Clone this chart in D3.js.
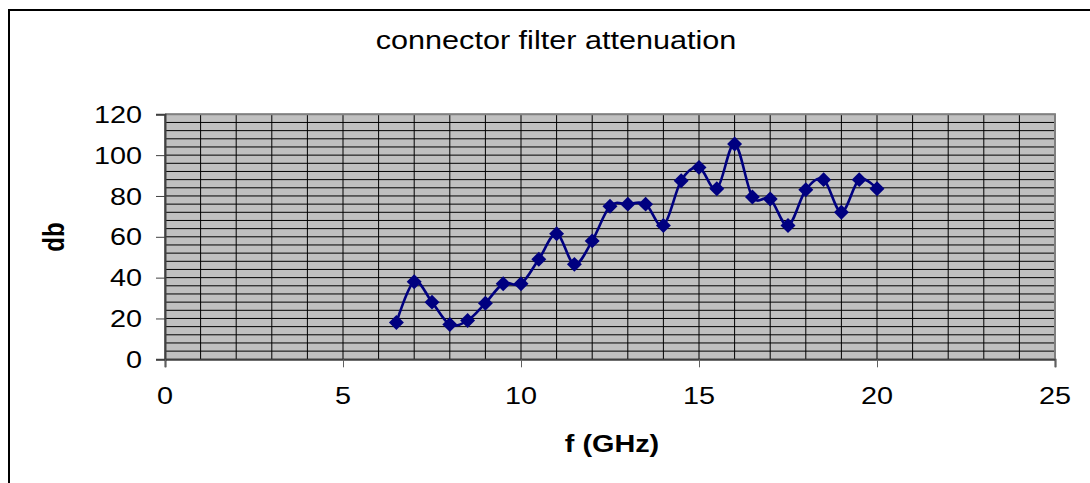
<!DOCTYPE html>
<html>
<head>
<meta charset="utf-8">
<script src="https://cdn.jsdelivr.net/npm/d3@7"></script>
<style>
  html, body { margin: 0; padding: 0; background: #fff; }
  svg { display: block; }
  text { font-family: "Liberation Sans", Arial, sans-serif; fill: #000; }
</style>
</head>
<body>
<svg id="chart" width="1090" height="483"></svg>
<script>
// ---- data ----
const freqGHz = [6.5, 7, 7.5, 8, 8.5, 9, 9.5, 10, 10.5, 11, 11.5, 12, 12.5, 13, 13.5, 14,
                 14.5, 15, 15.5, 16, 16.5, 17, 17.5, 18, 18.5, 19, 19.5, 20];
const attenDb = [18, 38, 28, 17, 19, 27.5, 37, 37, 49, 61.5, 46.5, 58, 75, 76, 76, 65.5,
                 87.5, 94, 83.5, 105.5, 79.5, 78.5, 65.5, 83, 88, 72, 88, 83.5];
const xTicks = [0, 5, 10, 15, 20, 25];
const yTicks = [0, 20, 40, 60, 80, 100, 120];
const xMinorGrid = d3.range(0, 26, 1);
const yMinorGrid = d3.range(0, 121, 4);
const titleText = "connector filter attenuation";
const xTitle = "f (GHz)";
const yTitle = "db";

// ---- layout ----
const svg = d3.select("#chart");
const L = 165, R = 1055, T = 114.3, B = 359.3;
const SX = 1.2; // horizontal stretch of the reference

const x = d3.scaleLinear().domain([0, 25]).range([L, R]);
const y = d3.scaleLinear().domain([0, 120]).range([B, T]);

// outer frame
svg.append("rect").attr("x", 9).attr("y", 10).attr("width", 1200).attr("height", 600)
  .attr("fill", "none").attr("stroke", "#000").attr("stroke-width", 2);

// plot area
svg.append("rect").attr("x", L).attr("y", T).attr("width", R - L).attr("height", B - T)
  .attr("fill", "#c0c0c0");

// gridlines
const grid = svg.append("g");
grid.selectAll("line.h").data(yMinorGrid).join("line")
  .attr("x1", L).attr("x2", R).attr("y1", d => y(d)).attr("y2", d => y(d))
  .attr("stroke", "#000").attr("stroke-width", 1);
grid.selectAll("line.v").data(xMinorGrid).join("line")
  .attr("y1", T).attr("y2", B).attr("x1", d => x(d)).attr("x2", d => x(d))
  .attr("stroke", "#000").attr("stroke-width", 1);

// plot border (top/right)
svg.append("path").attr("d", `M${L},${T}H${R}V${B}`)
  .attr("fill", "none").attr("stroke", "#808080").attr("stroke-width", 2);

// axes
const yAxis = d3.axisLeft(y).tickValues(yTicks).tickSize(9).tickFormat("");
const gy = svg.append("g").attr("transform", `translate(${L},0)`).call(yAxis);
gy.select(".domain").attr("stroke", "#404040").attr("stroke-width", 2);
gy.selectAll(".tick line").attr("stroke", "#404040");

const xAxis = d3.axisBottom(x).tickValues(xTicks).tickSize(8).tickFormat("");
const gx = svg.append("g").attr("transform", `translate(0,${B})`).call(xAxis);
gx.select(".domain").attr("stroke", "#404040").attr("stroke-width", 2);
gx.selectAll(".tick line").attr("stroke", "#606060");

// tick labels
const fs = 24;
svg.append("g").selectAll("text").data(yTicks).join("text")
  .attr("transform", d => `translate(142,${y(d) + 8.6}) scale(${SX},1)`)
  .attr("text-anchor", "end").attr("font-size", fs).text(d => d);
svg.append("g").selectAll("text").data(xTicks).join("text")
  .attr("transform", d => `translate(${x(d)},404) scale(${SX},1)`)
  .attr("text-anchor", "middle").attr("font-size", fs).text(d => d);

// titles
svg.append("text").attr("transform", `translate(556,49) scale(${SX},1)`)
  .attr("text-anchor", "middle").attr("font-size", 25.5).text(titleText);
svg.append("text").attr("transform", `translate(612,452) scale(${SX},1)`)
  .attr("text-anchor", "middle").attr("font-size", 24).attr("font-weight", "bold").text(xTitle);
svg.append("text").attr("transform", `translate(64,237) rotate(-90) scale(1,${SX})`)
  .attr("text-anchor", "middle").attr("font-size", 24).attr("font-weight", "bold").text(yTitle);

// series
const pts = freqGHz.map((f, i) => [f, attenDb[i]]);
const line = d3.line().x(d => x(d[0])).y(d => y(d[1])).curve(d3.curveCardinal.tension(0));
svg.append("path").datum(pts).attr("d", line)
  .attr("fill", "none").attr("stroke", "#000080").attr("stroke-width", 2.6);

const diamond = {
  draw(ctx, size) {
    const r = Math.sqrt(size / 2);
    ctx.moveTo(0, -r); ctx.lineTo(r, 0); ctx.lineTo(0, r); ctx.lineTo(-r, 0); ctx.closePath();
  }
};
svg.append("g").selectAll("path").data(pts).join("path")
  .attr("transform", d => `translate(${x(d[0])},${y(d[1])})`)
  .attr("d", d3.symbol().type(diamond).size(112))
  .attr("fill", "#000080");
</script>
</body>
</html>
